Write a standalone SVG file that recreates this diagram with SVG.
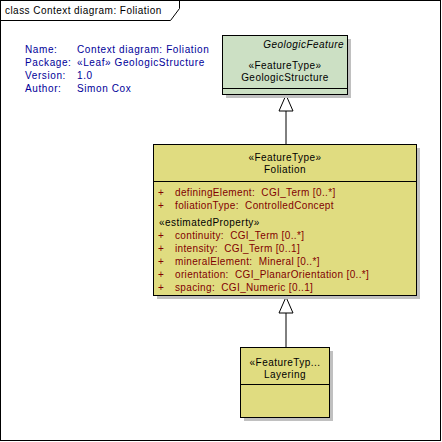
<svg xmlns="http://www.w3.org/2000/svg" width="442" height="442" viewBox="0 0 442 442">
<style>
text{font-family:"Liberation Sans",Arial,sans-serif;font-size:10px;letter-spacing:0.45px}
.title{fill:#000}
.info{fill:#000099;letter-spacing:0.6px}
.attr{fill:#800000;letter-spacing:0.35px}
.blk{fill:#000}
.shadow{fill:#c0c0c0}
.green{fill:#cce0c4;stroke:#000;stroke-width:1}
.yellow{fill:#e0dc80;stroke:#000;stroke-width:1}
.line{stroke:#000;stroke-width:1;fill:none}
.tri{fill:#fff;stroke:#000;stroke-width:1}
</style>
<rect x="0" y="0" width="442" height="442" fill="#fff"/>
<rect x="0.5" y="0.5" width="440" height="440" fill="none" stroke="#000"/>
<path d="M0.5,20.5 H170.5 L179.5,8.5 V0.5" class="line"/>
<text x="5" y="14" class="title">class Context diagram: Foliation</text>
<g id="info">
<text x="25" y="53" class="info">Name:</text><text x="77" y="53" class="info">Context diagram: Foliation</text>
<text x="25" y="66" class="info">Package:</text><text x="77" y="66" class="info">«Leaf» GeologicStructure</text>
<text x="25" y="79" class="info">Version:</text><text x="77" y="79" class="info">1.0</text>
<text x="25" y="92" class="info">Author:</text><text x="77" y="92" class="info">Simon Cox</text>
</g>
<g id="connectors">
<line x1="286" y1="111" x2="286" y2="144" class="line"/>
<polygon points="286,95 279,111 293,111" class="tri"/>
<line x1="286" y1="313" x2="286" y2="347" class="line"/>
<polygon points="286,297 279,313 293,313" class="tri"/>
</g>
<g id="GeologicStructure">
<rect x="226" y="39" width="125" height="59" class="shadow"/>
<rect x="222.5" y="35.5" width="125" height="59" class="green"/>
<line x1="222.5" y1="88.5" x2="347.5" y2="88.5" class="line"/>
<text x="344" y="48" text-anchor="end" class="blk" font-style="italic">GeologicFeature</text>
<text x="285" y="69" text-anchor="middle" class="blk">«FeatureType»</text>
<text x="285" y="81" text-anchor="middle" class="blk">GeologicStructure</text>
</g>
<g id="Foliation">
<rect x="157" y="148" width="263" height="151" class="shadow"/>
<rect x="153.5" y="144.5" width="263" height="151" class="yellow"/>
<line x1="153.5" y1="181.5" x2="416.5" y2="181.5" class="line"/>
<text x="285" y="161" text-anchor="middle" class="blk">«FeatureType»</text>
<text x="285" y="173" text-anchor="middle" class="blk">Foliation</text>
<text x="158" y="196" class="attr">+</text><text x="175" y="196" class="attr">definingElement:&#160; CGI_Term [0..*]</text>
<text x="158" y="209" class="attr">+</text><text x="175" y="209" class="attr">foliationType:&#160; ControlledConcept</text>
<text x="159" y="226" class="blk">«estimatedProperty»</text>
<text x="158" y="239" class="attr">+</text><text x="175" y="239" class="attr">continuity:&#160; CGI_Term [0..*]</text>
<text x="158" y="252" class="attr">+</text><text x="175" y="252" class="attr">intensity:&#160; CGI_Term [0..1]</text>
<text x="158" y="265" class="attr">+</text><text x="175" y="265" class="attr">mineralElement:&#160; Mineral [0..*]</text>
<text x="158" y="278" class="attr">+</text><text x="175" y="278" class="attr">orientation:&#160; CGI_PlanarOrientation [0..*]</text>
<text x="158" y="291" class="attr">+</text><text x="175" y="291" class="attr">spacing:&#160; CGI_Numeric [0..1]</text>
</g>
<g id="Layering">
<rect x="244" y="351" width="89" height="70" class="shadow"/>
<rect x="240.5" y="347.5" width="89" height="70" class="yellow"/>
<line x1="240.5" y1="384.5" x2="329.5" y2="384.5" class="line"/>
<text x="285" y="366" text-anchor="middle" class="blk">«FeatureTyp...</text>
<text x="285" y="378" text-anchor="middle" class="blk">Layering</text>
</g>
</svg>
